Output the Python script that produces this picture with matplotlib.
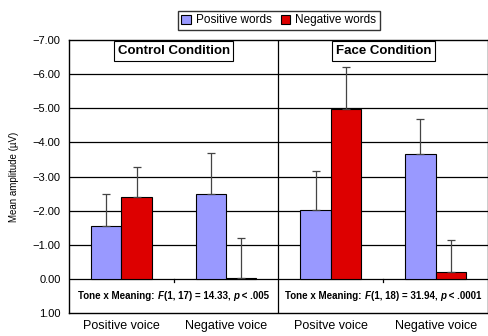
import numpy as np
import matplotlib
matplotlib.use("Agg")
import matplotlib.pyplot as plt
from matplotlib.patches import Patch

plt.rcParams["font.family"] = ["Liberation Sans", "DejaVu Sans"]

categories = ["Positive voice", "Negative voice", "Positve voice", "Negative voice"]
positive_words = [-1.54, -2.49, -2.03, -3.67]
positive_err = [0.95, 1.21, 1.13, 1.01]
negative_words = [-2.39, -0.02, -4.97, -0.20]
negative_err = [0.88, 1.18, 1.25, 0.95]
panels = ["Control Condition", "Face Condition"]
stats = [("17", "14.33", "< .005"), ("18", "31.94", "< .0001")]

BLUE = "#9999FF"
RED = "#DD0000"

fig = plt.figure(figsize=(4.89, 3.36), dpi=100)
ax = fig.add_axes([0.141, 0.068, 0.857, 0.813])

x = np.arange(len(categories))
w = 0.29
ax.set_axisbelow(True)
for yy in range(-6, 1):
    ax.axhline(yy, color="black", lw=0.9, zorder=0)

ax.bar(x - w / 2, positive_words, width=w, color=BLUE, edgecolor="black", lw=0.8, zorder=2)
ax.bar(x + w / 2, negative_words, width=w, color=RED, edgecolor="black", lw=0.8, zorder=2)
# bars are negative, so the error goes further negative (upwards on the inverted axis)
ekw = dict(fmt="none", ecolor="#444444", elinewidth=0.9, capsize=3, capthick=0.9, zorder=3)
ax.errorbar(x - w / 2, positive_words, yerr=[positive_err, np.zeros(4)], **ekw)
ax.errorbar(x + w / 2, negative_words, yerr=[negative_err, np.zeros(4)], **ekw)

ax.axvline(1.5, color="black", lw=0.9, zorder=1)
for xb in (0.5, 2.5):
    ax.plot([xb, xb], [0, 0.1], color="black", lw=0.9, zorder=1)

ax.set_xlim(-0.5, 3.5)
ax.set_ylim(1, -7)
ax.set_yticks(range(-7, 2))
ax.set_yticklabels([f"{v:.2f}".replace("-", "\u2212") for v in range(-7, 2)], fontsize=8)
ax.tick_params(axis="y", length=0, pad=6)
ax.set_xticks(x)
ax.set_xticklabels(categories, fontsize=9)
ax.tick_params(axis="x", length=0, pad=5)
ax.set_ylabel("Mean amplitude (\u00b5V)", fontsize=7, labelpad=10)
for s in ax.spines.values():
    s.set_linewidth(1.0)

for cx, name in zip((0.5, 2.5), panels):
    ax.text(cx, -6.68, name, ha="center", va="center", fontsize=9.5, fontweight="bold",
            bbox=dict(boxstyle="square,pad=0.28", fc="white", ec="black", lw=0.8), zorder=4)

for cx, (df, fval, pval) in zip((0.5, 2.5), stats):
    parts = [("Tone x Meaning: ", "normal"), ("F", "italic"),
             (f"(1, {df}) = {fval}, ", "normal"), ("p", "italic"), (f" {pval}", "normal")]
    t = ax.text(0, 0.5, parts[0][0], ha="left", va="center", fontsize=7,
                fontweight="bold", zorder=4)
    texts = [t]
    for s, style in parts[1:]:
        t = ax.annotate(s, xy=(1, 0), xycoords=t, ha="left", va="bottom", fontsize=7,
                        fontweight="bold", fontstyle=style, zorder=4)
        texts.append(t)
    fig.canvas.draw()
    r = fig.canvas.get_renderer()
    bbs = [tt.get_window_extent(r) for tt in texts]
    total = bbs[-1].x1 - bbs[0].x0
    cpx = ax.transData.transform((cx, 0.5))[0]
    x0 = ax.transData.inverted().transform((cpx - total / 2, 0))[0]
    texts[0].set_x(x0)

handles = [Patch(fc=BLUE, ec="black", lw=0.8), Patch(fc=RED, ec="black", lw=0.8)]
fig.legend(handles, ["Positive words", "Negative words"], loc="center",
           bbox_to_anchor=(0.57, 0.94), ncol=2, fontsize=8.5, frameon=True, fancybox=False,
           edgecolor="black", handlelength=0.8, handleheight=0.8, handletextpad=0.4,
           columnspacing=0.8, borderpad=0.3)

fig.savefig("out.png", dpi=100)
